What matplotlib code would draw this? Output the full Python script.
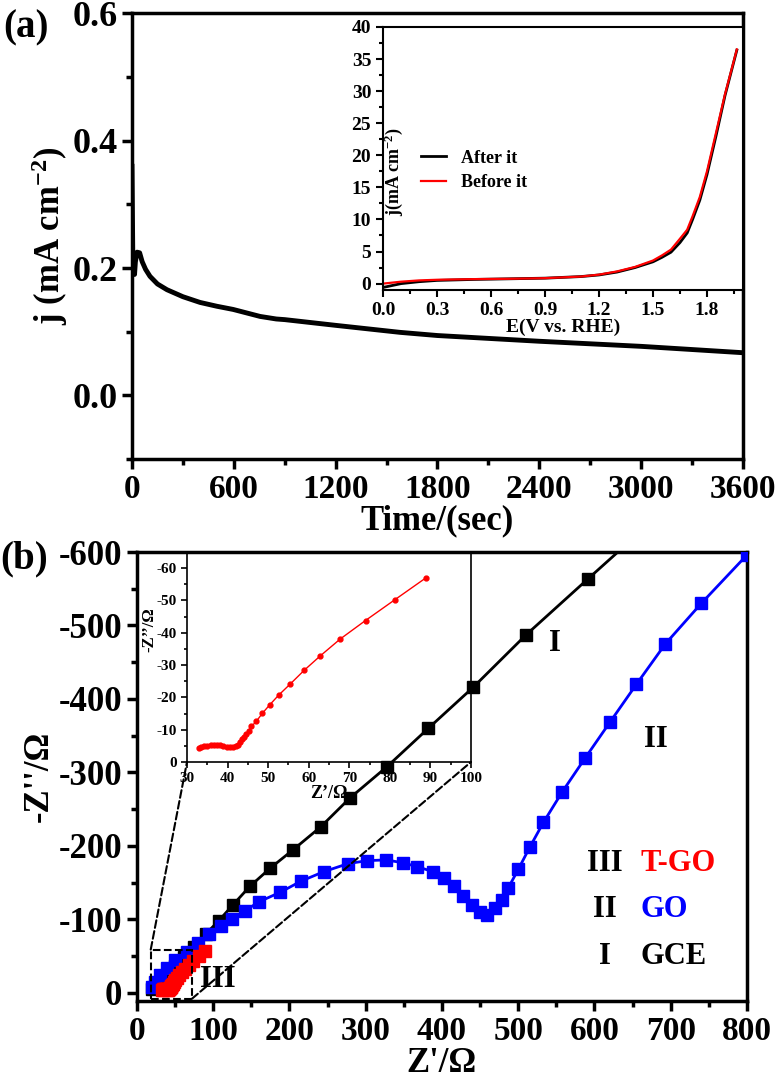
import matplotlib
matplotlib.use('Agg')
import matplotlib.pyplot as plt
from matplotlib.patches import Rectangle, ConnectionPatch
from matplotlib.ticker import MultipleLocator

plt.rcParams['font.family'] = ['Liberation Serif', 'DejaVu Serif']
plt.rcParams['font.weight'] = 'bold'
plt.rcParams['mathtext.fontset'] = 'custom'
plt.rcParams['mathtext.rm'] = 'Liberation Serif:bold'
plt.rcParams['mathtext.default'] = 'rm'
plt.rcParams['axes.unicode_minus'] = False

# (a) chronoamperometry
time_s = [0, 2, 5, 10, 15, 20, 30, 45, 60, 80, 106, 150, 206, 300, 401, 500,
          596, 755, 850, 900, 1200, 1579, 1800, 2400, 3000, 3600]
current = [0.36, 0.30, 0.21, 0.19, 0.19, 0.21, 0.225, 0.224, 0.21, 0.198, 0.187,
           0.175, 0.166, 0.155, 0.146, 0.140, 0.135, 0.124, 0.120, 0.119, 0.110,
           0.099, 0.094, 0.085, 0.077, 0.067]

# (a) inset: LSV before / after
e_rhe = [0.0, 0.1, 0.2, 0.3, 0.5, 0.7, 0.9, 1.1, 1.2, 1.3, 1.4, 1.5, 1.55, 1.6,
         1.65, 1.69, 1.72, 1.76, 1.8, 1.85, 1.9, 1.966]
j_before = [0.0, 0.3, 0.5, 0.6, 0.7, 0.75, 0.85, 1.1, 1.4, 1.9, 2.6, 3.6, 4.4, 5.3,
            7.0, 8.4, 10.5, 13.5, 17.5, 23.5, 29.5, 36.5]
j_after = [-0.6, 0.0, 0.3, 0.5, 0.65, 0.75, 0.85, 1.1, 1.35, 1.8, 2.5, 3.4, 4.1, 4.9,
           6.4, 7.9, 10.0, 13.0, 17.0, 23.0, 29.3, 36.4]

# (b) Nyquist plots, Z' and Z'' (ohm)
gce_re = [20, 26, 33, 41, 50, 61, 75, 90, 107, 126, 148, 175, 205, 241, 279, 328,
          382, 441, 510, 591, 650]
gce_im = [-5, -10, -18, -27, -37, -49, -63, -80, -98, -120, -145, -170, -195, -226,
          -265, -308, -360, -416, -487, -563, -618]

go_re = [20, 24, 30, 39, 50, 66, 80, 95, 110, 125, 142, 160, 188, 215, 245, 277,
         302, 327, 349, 367, 388, 403, 416, 428, 439, 450, 459, 469, 479, 487, 500,
         515, 533, 558, 588, 620, 655, 693, 740, 800]
go_im = [-8, -15, -24, -34, -45, -55, -68, -80, -91, -101, -112, -124, -137, -152,
         -165, -176, -180, -181, -177, -172, -165, -157, -145, -132, -120, -110, -106,
         -116, -127, -143, -168, -198, -232, -274, -320, -368, -420, -475, -530, -596]

tgo_re = [32.9, 33.5, 34.2, 35.0, 35.8, 36.6, 37.4, 38.2, 39.0, 39.8, 40.6, 41.3,
          42.0, 42.6, 43.1, 43.6, 44.1, 44.6, 45.2, 45.9, 47.1, 48.6, 50.4, 52.6,
          55.5, 58.9, 62.9, 67.8, 74.0, 81.2, 89.0]
tgo_im = [-4.3, -4.6, -4.9, -5.1, -5.3, -5.4, -5.4, -5.3, -5.0, -4.7, -4.5, -4.5,
          -4.8, -5.4, -6.2, -7.0, -7.8, -8.7, -9.6, -11.0, -12.6, -15.1, -17.7, -20.7,
          -24.2, -28.4, -32.9, -38.1, -43.8, -50.2, -57.1]

# zoomed region of panel (b)
zoom_x = (18, 72)
zoom_y = (8, -59)


def style_axis(ax, size, lw, major, minor):
    for s in ax.spines.values():
        s.set_linewidth(lw)
    ax.tick_params(which='major', direction='out', length=major, width=lw,
                   labelsize=size, top=False, right=False)
    ax.tick_params(which='minor', direction='out', length=minor, width=lw,
                   top=False, right=False)
    for lab in ax.get_xticklabels() + ax.get_yticklabels():
        lab.set_fontweight('bold')


fig = plt.figure(figsize=(7.82, 10.79), dpi=100)

# ---------- (a) ----------
ax1 = fig.add_axes([0.1688, 0.5746, 0.7813, 0.4129])
ax1.plot(time_s, current, color='k', lw=3.5)
ax1.set_xlim(0, 3600)
ax1.set_ylim(-0.1, 0.6)
ax1.set_xticks(range(0, 3601, 600))
ax1.xaxis.set_minor_locator(MultipleLocator(300))
ax1.set_yticks([0.0, 0.2, 0.4, 0.6])
ax1.set_yticklabels(['0.0', '0.2', '0.4', '0.6'])
ax1.yaxis.set_minor_locator(MultipleLocator(0.1))
style_axis(ax1, 24, 2.5, 7, 4)
ax1.tick_params(axis='y', labelsize=26)
ax1.set_xlabel('Time/(sec)', fontsize=25, fontweight='bold', labelpad=0)
ax1.set_ylabel('j (mA cm$^{-2}$)', fontsize=25, fontweight='bold', labelpad=2)

ax1in = fig.add_axes([0.4898, 0.7312, 0.4603, 0.2438])
ax1in.plot(e_rhe, j_after, color='k', lw=2, label='After it')
ax1in.plot(e_rhe, j_before, color='r', lw=1.6, label='Before it')
ax1in.set_xlim(0, 2.0)
ax1in.set_ylim(-1, 40)
ax1in.set_xticks([0.0, 0.3, 0.6, 0.9, 1.2, 1.5, 1.8])
ax1in.set_xticklabels(['0.0', '0.3', '0.6', '0.9', '1.2', '1.5', '1.8'])
ax1in.xaxis.set_minor_locator(MultipleLocator(0.15))
ax1in.set_yticks(range(0, 41, 5))
ax1in.yaxis.set_minor_locator(MultipleLocator(2.5))
style_axis(ax1in, 14, 1.5, 5, 3)
ax1in.set_xlabel('E(V vs. RHE)', fontsize=14, fontweight='bold', labelpad=0)
ax1in.set_ylabel('j(mA cm$^{-2}$)', fontsize=13, fontweight='bold')
ax1in.yaxis.set_label_coords(0.06, 0.45)
ax1in.legend(loc='center left', bbox_to_anchor=(0.06, 0.455), frameon=False,
             handlelength=1.4, prop={'size': 13, 'weight': 'bold'}, labelspacing=0.4)

# ---------- (b) ----------
ax2 = fig.add_axes([0.1752, 0.0723, 0.78, 0.4161])
ax2.plot(gce_re, gce_im, color='k', marker='s', ms=9, lw=2, zorder=3)
ax2.plot(go_re, go_im, color='b', marker='s', ms=9, lw=2, zorder=3)
ax2.plot(tgo_re, tgo_im, color='r', marker='s', ms=8, lw=0, zorder=4)
ax2.set_xlim(0, 800)
ax2.set_ylim(11, -600)
ax2.set_xticks(range(0, 801, 100))
ax2.xaxis.set_minor_locator(MultipleLocator(50))
ax2.set_yticks(range(0, -601, -100))
ax2.yaxis.set_minor_locator(MultipleLocator(50))
style_axis(ax2, 24, 2.5, 7, 4)
ax2.tick_params(axis='y', labelsize=25)
ax2.set_xlabel("Z'/Ω", fontsize=25, fontweight='bold', labelpad=0)
ax2.set_ylabel("-Z''/Ω", fontsize=25, fontweight='bold', labelpad=2)

ax2.add_patch(Rectangle((zoom_x[0], zoom_y[0]), zoom_x[1] - zoom_x[0],
                        zoom_y[1] - zoom_y[0], fill=False, ls='--', lw=1.5,
                        ec='k', zorder=5))
ax2.text(106, -18, 'III', fontsize=22, fontweight='bold', ha='center', va='center')
ax2.text(548, -475, 'I', fontsize=22, fontweight='bold', ha='center', va='center')
ax2.text(680, -345, 'II', fontsize=22, fontweight='bold', ha='center', va='center')

for yy, num, name, col in [(0.307, 'III', 'T-GO', 'r'), (0.203, 'II', 'GO', 'b'),
                           (0.10, 'I', 'GCE', 'k')]:
    ax2.text(0.767, yy, num, transform=ax2.transAxes, fontsize=22,
             fontweight='bold', ha='center', va='center')
    ax2.text(0.825, yy, name, transform=ax2.transAxes, fontsize=22,
             fontweight='bold', ha='left', va='center', color=col)

ax2in = fig.add_axes([0.2391, 0.2938, 0.3632, 0.1946])
ax2in.set_facecolor('none')
ax2in.plot(tgo_re, tgo_im, color='r', marker='o', ms=3.5, lw=1)
ax2in.set_xlim(30, 100)
ax2in.set_ylim(0, -65)
ax2in.set_xticks(range(30, 101, 10))
ax2in.xaxis.set_minor_locator(MultipleLocator(5))
ax2in.set_yticks(range(0, -61, -10))
ax2in.yaxis.set_minor_locator(MultipleLocator(5))
style_axis(ax2in, 11, 1.2, 4, 2)
ax2in.set_xlabel('Z’/Ω', fontsize=13, fontweight='bold', labelpad=0)
ax2in.set_ylabel('-Z’’/Ω', fontsize=12, fontweight='bold')
ax2in.yaxis.set_label_coords(-0.105, 0.63)

for xa, xb in [((zoom_x[0], zoom_y[1]), (0, 0)), ((zoom_x[1], zoom_y[0]), (1, 0))]:
    con = ConnectionPatch(xyA=xa, coordsA=ax2.transData, xyB=xb,
                          coordsB=ax2in.transAxes, ls='--', lw=1.5, color='k')
    fig.add_artist(con)

fig.text(0.004, 0.991, '(a)', fontsize=28, fontweight='bold', va='top')
fig.text(0.0, 0.499, '(b)', fontsize=28, fontweight='bold', va='top')

fig.savefig('out.png', dpi=100)
